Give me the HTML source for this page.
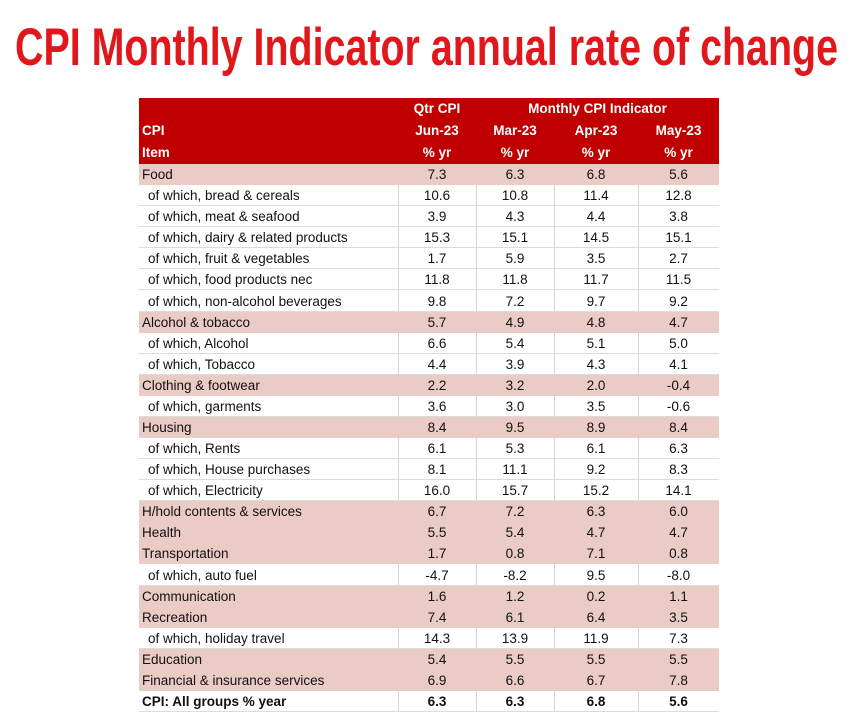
<!DOCTYPE html>
<html><head><meta charset="utf-8"><style>
body{margin:0;width:852px;height:727px;background:#fff;overflow:hidden;position:relative;font-family:"Liberation Sans",Arial,sans-serif}
#t{position:absolute;left:139px;top:98px;width:580px;border-collapse:collapse;border-spacing:0;table-layout:fixed;font-size:13.5px;color:#111}
#t td{height:21.08px;padding:0;line-height:21px;white-space:nowrap;overflow:hidden;border:none}
#t td.n{text-align:center}
#t tr.w td{box-shadow:inset 0 -1px #dcdcdc}
#t tr.w td.n{box-shadow:inset 0 -1px #dcdcdc,inset 1px 0 #d6d6d6}
#t tr.s td{background:#ebcbc5}
#t tr.h td{background:#c00000;color:#fff;font-weight:bold;height:22px;line-height:22px;box-shadow:none}
#t tr.b td{font-weight:bold}
#t td.l{padding-left:3px}
#t tr.w td.l{padding-left:9px}
</style></head><body>
<svg width="852" height="90" style="position:absolute;left:0;top:0">
<text x="15" y="65" textLength="823" lengthAdjust="spacingAndGlyphs" font-family="Liberation Sans, sans-serif" font-weight="bold" font-size="53" fill="#e0181b">CPI Monthly Indicator annual rate of change</text>
</svg>
<table id="t">
<colgroup><col style="width:259px"><col style="width:78px"><col style="width:78px"><col style="width:84px"><col style="width:81px"></colgroup>
<tr class="h"><td></td><td class="n">Qtr CPI</td><td colspan="3" style="text-align:center">Monthly CPI Indicator</td></tr>
<tr class="h"><td class="l">CPI</td><td class="n">Jun-23</td><td class="n">Mar-23</td><td class="n">Apr-23</td><td class="n">May-23</td></tr>
<tr class="h"><td class="l">Item</td><td class="n">% yr</td><td class="n">% yr</td><td class="n">% yr</td><td class="n">% yr</td></tr>
<tbody id="body"></tbody>
</table>
<script>
const labels=["Food","of which, bread & cereals","of which, meat & seafood","of which, dairy & related products","of which, fruit & vegetables","of which, food products nec","of which, non-alcohol beverages","Alcohol & tobacco","of which, Alcohol","of which, Tobacco","Clothing & footwear","of which, garments","Housing","of which, Rents","of which, House purchases","of which, Electricity","H/hold contents & services","Health","Transportation","of which, auto fuel","Communication","Recreation","of which, holiday travel","Education","Financial & insurance services","CPI: All groups % year"];
const jun23=["7.3","10.6","3.9","15.3","1.7","11.8","9.8","5.7","6.6","4.4","2.2","3.6","8.4","6.1","8.1","16.0","6.7","5.5","1.7","-4.7","1.6","7.4","14.3","5.4","6.9","6.3"];
const mar23=["6.3","10.8","4.3","15.1","5.9","11.8","7.2","4.9","5.4","3.9","3.2","3.0","9.5","5.3","11.1","15.7","7.2","5.4","0.8","-8.2","1.2","6.1","13.9","5.5","6.6","6.3"];
const apr23=["6.8","11.4","4.4","14.5","3.5","11.7","9.7","4.8","5.1","4.3","2.0","3.5","8.9","6.1","9.2","15.2","6.3","4.7","7.1","9.5","0.2","6.4","11.9","5.5","6.7","6.8"];
const may23=["5.6","12.8","3.8","15.1","2.7","11.5","9.2","4.7","5.0","4.1","-0.4","-0.6","8.4","6.3","8.3","14.1","6.0","4.7","0.8","-8.0","1.1","3.5","7.3","5.5","7.8","5.6"];
const body=document.getElementById('body');
labels.forEach((lab,i)=>{
 const tr=document.createElement('tr');
 const sub=lab.startsWith('of which');
 const last=i===labels.length-1;
 tr.className=last?'w b':(sub?'w':'s');
 
 
 const td=document.createElement('td');td.className='l';td.textContent=lab;
 if(last)td.style.paddingLeft='3px';
 tr.appendChild(td);
 [jun23,mar23,apr23,may23].forEach(a=>{const c=document.createElement('td');c.className='n';c.textContent=a[i];tr.appendChild(c);});
 body.appendChild(tr);
});
</script>
</body></html>
